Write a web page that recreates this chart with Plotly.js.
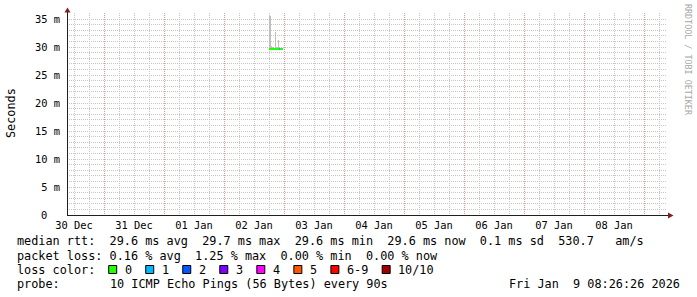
<!DOCTYPE html>
<html>
<head>
<meta charset="utf-8">
<script src="https://cdn.plot.ly/plotly-3.0.1.min.js"></script>
<style>html,body{margin:0;padding:0;background:#fff;}#chart{width:697px;height:297px;}</style>
</head>
<body>
<div id="chart"></div>
<script>
// ---------- data ----------
const times = ['2026-01-02 18:00','2026-01-02 18:24','2026-01-02 18:48','2026-01-02 19:12','2026-01-02 19:36','2026-01-02 20:00','2026-01-02 20:24','2026-01-02 20:48','2026-01-02 21:12','2026-01-02 21:36','2026-01-02 22:00','2026-01-02 22:24','2026-01-02 22:48','2026-01-02 23:12'];
const medianMs = [29.6,29.6,29.6,29.6,29.6,29.6,29.6,29.7,29.6,29.6,29.6,29.6,29.6,29.6];
const smokeMinMs = [29.4,29.4,29.4,29.4,29.4,29.4,29.4,29.4,29.4,29.4,29.4,29.4,29.4,29.4];
const smokeMaxMs = [35.8,35.6,30.1,30.0,30.0,29.9,32.7,30.0,30.0,31.25,30.0,29.9,30.0,29.9];
const lossCount = [0,0,0,0,0,0,0,0,0,0,1,0,0,0];

const yTickVals = [0,0.005,0.010,0.015,0.020,0.025,0.030,0.035];
const yTickText = ['0','5 m','10 m','15 m','20 m','25 m','30 m','35 m'];

const lossLabels = ['0','1','2','3','4','5','6-9','10/10'];
const lossColors = ['#26ff00','#00b8ff','#0059ff','#7e00ff','#ff00ff','#ff5500','#ff0000','#a10000'];

const rttStats = [29.6, 29.7, 29.6, 29.6, 0.1, 530.7];
const lossStats = [0.16, 1.25, 0.00, 0.00];
const probeText = '10 ICMP Echo Pings (56 Bytes) every 90s';
const dateText = 'Fri Jan  9 08:26:26 2026';

// ---------- layout helpers ----------
const W = 697, H = 297;
const L = 67, R = 667, T = 13, B = 215;
const px = x => (x - L) / (R - L);
const py = y => (B - y) / (B - T);
const MONO = 'DejaVu Sans Mono';
const CH = 7.13; // legend char advance
const nb = s => s.replace(/ /g, '\u00a0');
const MAJ = '#e99393', MIN = '#c6c6c6';

function lossIdx(n){ return n >= 10 ? 7 : (n >= 6 ? 6 : n); }

const xRange = ['2025-12-30 09:12','2026-01-09 09:12'];
const yTop = 0.036071;
const HALFPX_MS = 12*60*1000;          // half a pixel on the time axis
const HALFPX_Y = yTop / (B - T) / 2;   // half a pixel on the value axis

const STEP = 24*60*1000;
const traces = [
  {
    type:'bar', x: times, base: smokeMinMs.map(v=>v/1000),
    y: smokeMaxMs.map((v,i)=>(v - smokeMinMs[i])/1000),
    width: STEP, offset: 0,
    marker:{color:'#bfbfbf', line:{width:0}}, hoverinfo:'skip', showlegend:false
  },
  {
    type:'bar', x: times, base: medianMs.map(v=>v/1000 - 0.000179),
    y: medianMs.map(()=>0.000357),
    width: STEP, offset: 0,
    marker:{color: lossCount.map(n=>lossColors[lossIdx(n)]), line:{width:0}},
    hoverinfo:'skip', showlegend:false
  }
];

const shapes = [];
const annotations = [];

// major grid (red dotted): above the minor grid, beneath the data
for (let t = Date.UTC(2025,11,31); t <= Date.UTC(2026,0,9); t += 86400000) {
  const d = new Date(t + HALFPX_MS).toISOString().slice(0,19).replace('T',' ');
  shapes.push({type:'line', layer:'between', xref:'x', yref:'paper', x0:d, x1:d, y0:1, y1:0,
    line:{color:MAJ, width:1, dash:'1px,1px'}});
}
yTickVals.forEach(v => {
  if (v > 0) shapes.push({type:'line', layer:'between', xref:'paper', yref:'y', x0:0, x1:1, y0:v - HALFPX_Y, y1:v - HALFPX_Y,
    line:{color:MAJ, width:1, dash:'1px,1px'}});
});

// axes lines + arrows
shapes.push({type:'line', xref:'paper', yref:'paper', x0:px(L), x1:px(668.5), y0:py(215.5), y1:py(215.5), line:{color:'#1f1f1f', width:1}});
shapes.push({type:'line', xref:'paper', yref:'paper', x0:px(67.5), x1:px(67.5), y0:py(215.5), y1:py(12), line:{color:'#1f1f1f', width:1}});
shapes.push({type:'path', xref:'paper', yref:'paper', path:
  `M ${px(668)} ${py(212.5)} L ${px(673.5)} ${py(215.5)} L ${px(668)} ${py(218.5)} Z`, fillcolor:'#801f1f', line:{width:0}});
shapes.push({type:'path', xref:'paper', yref:'paper', path:
  `M ${px(64.5)} ${py(12.5)} L ${px(67.5)} ${py(7.5)} L ${px(70.5)} ${py(12.5)} Z`, fillcolor:'#801f1f', line:{width:0}});

// legend text
const legFont = {family: MONO, size: 11.84, color:'#000'};
const rows = [241.5, 255.5, 269.5, 283.5];
function text(x, y, s, anchor, font){
  annotations.push({xref:'paper', yref:'paper', x:px(x), y:py(y), text:nb(s), showarrow:false,
    xanchor: anchor||'left', yanchor:'middle', font:font||legFont, borderpad:0});
}
const f1 = v => v.toFixed(1), f2 = v => v.toFixed(2);
text(16, rows[0], `median rtt:  ${f1(rttStats[0])} ms avg  ${f1(rttStats[1])} ms max  ${f1(rttStats[2])} ms min  ${f1(rttStats[3])} ms now  ${f1(rttStats[4])} ms sd  ${f1(rttStats[5])}   am/s`);
text(16, rows[1], `packet loss: ${f2(lossStats[0])} % avg  ${f2(lossStats[1])} % max  ${f2(lossStats[2])} % min  ${f2(lossStats[3])} % now`);
text(16, rows[2], 'loss color:');
let bx = 108.7;
lossLabels.forEach((lab, i) => {
  shapes.push({type:'rect', xref:'paper', yref:'paper', x0:px(bx), x1:px(bx+8), y0:py(265.5), y1:py(273.5),
    fillcolor: lossColors[i], line:{color:'#000', width:1}});
  text(bx + 15, rows[2], lab);
  bx = bx + 15 + lab.length*CH + 14.9;
});
text(16, rows[3], 'probe:');
text(16 + 13*CH, rows[3], probeText);
text(681, rows[3], dateText, 'right');

// zero tick label (rrdtool pads it left of the unit column)
text(48, 215, yTickText[0], 'right', {family: MONO, size:10.4, color:'#000'});

// y title
annotations.push({xref:'paper', yref:'paper', x:px(11), y:py(113), text:'Seconds', textangle:-90, showarrow:false,
  xanchor:'center', yanchor:'middle', font:{family:MONO, size:11.84, color:'#000'}});
// watermark
annotations.push({xref:'paper', yref:'paper', x:px(688), y:py(60), text:'RRDTOOL / TOBI OETIKER', textangle:90, showarrow:false,
  xanchor:'center', yanchor:'middle', font:{family:MONO, size:8.4, color:'#a8a8a8'}});

const layout = {
  width: W, height: H,
  margin: {l: L, r: W - R, t: T, b: H - B, pad: 0},
  paper_bgcolor:'#ffffff', plot_bgcolor:'#ffffff',
  showlegend:false, barmode:'overlay', bargap:0,
  font:{family: MONO, color:'#000'},
  xaxis: {
    type:'date', range: xRange,
    tick0:'2025-12-31', dtick: 86400000, tickformat:'%d %b', ticklabelmode:'period',
    ticks:'', showline:false, zeroline:false, showgrid:false,
    minor:{dtick: 21600000, tick0:'2025-12-31', showgrid:true, gridcolor:MIN, gridwidth:1, griddash:'1px,1px', ticks:''},
    tickfont:{family: MONO, size:10.4, color:'#000'}, ticklabelstandoff:3, fixedrange:true
  },
  yaxis: {
    range:[0, yTop], tickmode:'array', tickvals: yTickVals, ticktext: yTickText.map((t,i)=> i===0 ? '' : t),
    ticks:'', showline:false, zeroline:false, showgrid:false,
    minor:{tickmode:'linear', tick0:0, dtick:0.001, showgrid:true, gridcolor:MIN, gridwidth:1, griddash:'1px,1px', ticks:''},
    tickfont:{family: MONO, size:10.4, color:'#000'}, ticklabelstandoff:6, fixedrange:true
  },
  shapes, annotations
};

Plotly.newPlot('chart', traces, layout, {staticPlot:true, displayModeBar:false});
</script>
</body>
</html>
